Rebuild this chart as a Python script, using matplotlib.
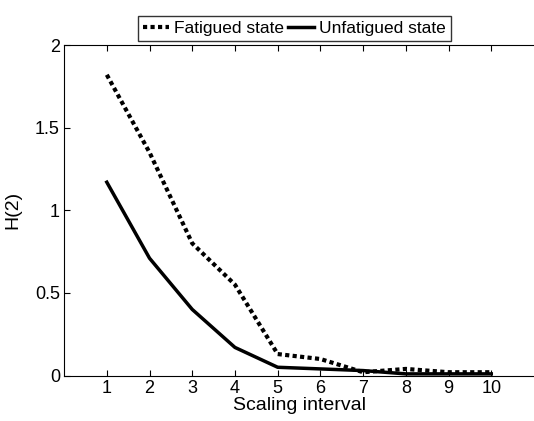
import numpy as np
import matplotlib.pyplot as plt

plt.rcParams['font.family'] = ['Liberation Sans', 'DejaVu Sans']

# Значення H(2) для кожного інтервалу масштабування
intervals = np.arange(1, 11)
fatigued = [1.82, 1.35, 0.80, 0.55, 0.13, 0.10, 0.02, 0.04, 0.02, 0.02]
unfatigued = [1.17, 0.71, 0.40, 0.17, 0.05, 0.04, 0.03, 0.01, 0.01, 0.01]

fig = plt.figure(figsize=(5.34, 4.21), dpi=100)
ax = fig.add_axes([0.12, 0.108, 0.88, 0.785])

ax.plot(intervals, fatigued, color='black', linestyle=(0, (1, 0.8)), linewidth=3,
        label='Fatigued state')
ax.plot(intervals, unfatigued, color='black', linestyle='-', linewidth=2.5,
        label='Unfatigued state')

ax.set_xlim(0, 11)
ax.set_ylim(0, 2)
ax.set_xticks(intervals)
ax.set_yticks([0, 0.5, 1, 1.5, 2])
ax.set_yticklabels(['0', '0.5', '1', '1.5', '2'])
ax.tick_params(direction='in', top=True, labelsize=13, length=4, pad=3)
ax.spines['right'].set_visible(False)

ax.set_xlabel('Scaling interval', fontsize=14, labelpad=0)
ax.set_ylabel('H(2)', fontsize=14, labelpad=10)

# Легенда над областю графіка
ax.legend(loc='lower center', bbox_to_anchor=(0.49, 1.012), ncol=2, frameon=True,
          fancybox=False, edgecolor='black', fontsize=12.5, handlelength=1.5,
          handletextpad=0.3, columnspacing=0.2, borderpad=0.3, borderaxespad=0)

fig.savefig('out.png', dpi=100)
plt.close(fig)
